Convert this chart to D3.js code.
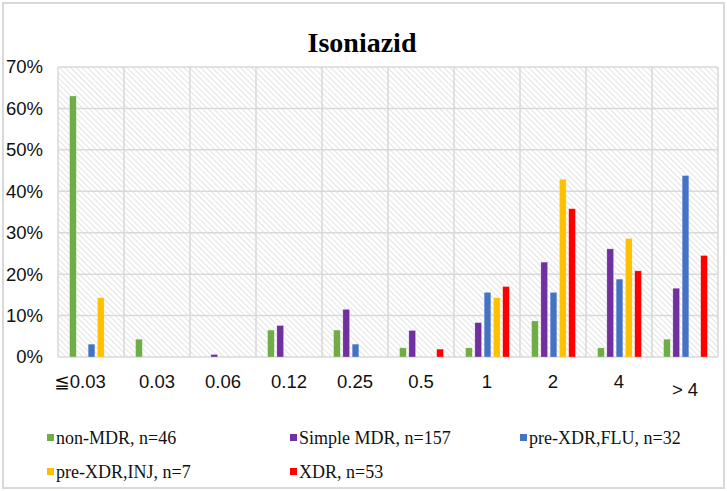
<!DOCTYPE html>
<html>
<head>
<meta charset="utf-8">
<script src="https://cdn.jsdelivr.net/npm/d3@7"></script>
<style>
  body { margin: 0; background: #fff; }
  .serif { font-family: 'Liberation Serif', 'Times New Roman', 'DejaVu Serif', 'Noto Serif', serif; }
  .sans { font-family: 'Liberation Sans', Arial, 'DejaVu Sans', sans-serif; }
</style>
</head>
<body>
<script>
var w = 727;
var h = 491;

// MIC categories (mg/L)
var categories = ['\u22660.03', '0.03', '0.06', '0.12', '0.25', '0.5', '1', '2', '4', '> 4'];
var seriesNames = ['non-MDR, n=46', 'Simple MDR, n=157', 'pre-XDR,FLU, n=32', 'pre-XDR,INJ, n=7', 'XDR, n=53'];
var colors = ['#70ad47', '#7030a0', '#4472c4', '#ffc000', '#ff0000'];
// percentages
var nonMDR    = [63.0, 4.3, 0, 6.5, 6.5, 2.2, 2.2, 8.7, 2.2, 4.3];
var simpleMDR = [0, 0, 0.6, 7.6, 11.5, 6.4, 8.3, 22.9, 26.1, 16.6];
var preXdrFlu = [3.1, 0, 0, 0, 3.1, 0, 15.6, 15.6, 18.8, 43.8];
var preXdrInj = [14.3, 0, 0, 0, 0, 0, 14.3, 42.9, 28.6, 0];
var xdr       = [0, 0, 0, 0, 0, 1.9, 17.0, 35.8, 20.8, 24.5];
var yTicks = [0, 10, 20, 30, 40, 50, 60, 70];

var allSeries = [nonMDR, simpleMDR, preXdrFlu, preXdrInj, xdr];

var margin = {left: 58, right: 9, top: 67, bottom: 134};
var pw = w - margin.left - margin.right;
var ph = h - margin.top - margin.bottom;

var svg = d3.select('body')
  .append('svg')
  .attr('width', w)
  .attr('height', h);

// hatch fill for the plot area
var defs = svg.append('defs');
defs.append('pattern')
  .attr('id', 'hatch')
  .attr('patternUnits', 'userSpaceOnUse')
  .attr('width', 4)
  .attr('height', 4)
  .attr('patternTransform', 'rotate(-45)')
  .append('line')
  .attr('x1', 0).attr('y1', 0)
  .attr('x2', 0).attr('y2', 4)
  .attr('stroke', '#d4d4d4')
  .attr('stroke-width', 1.3);

// outer frame
svg.append('rect')
  .attr('x', 3).attr('y', 3)
  .attr('width', w - 6).attr('height', h - 6)
  .attr('fill', 'none')
  .attr('stroke', '#d9d9d9')
  .attr('stroke-width', 2);

svg.append('text')
  .attr('class', 'serif')
  .attr('x', 362)
  .attr('y', 52)
  .attr('text-anchor', 'middle')
  .attr('font-weight', 'bold')
  .attr('font-size', '28px')
  .attr('fill', '#000')
  .text('Isoniazid');

var g = svg.append('g')
  .attr('transform', 'translate(' + margin.left + ',' + margin.top + ')');

var x0 = d3.scaleBand().domain(categories).range([0, pw]);
var x1 = d3.scaleBand().domain(d3.range(seriesNames.length))
  .range([9, x0.bandwidth() - 8]).padding(0.28);
var y = d3.scaleLinear().domain([0, 70]).range([ph, 0]);

g.append('rect')
  .attr('width', pw)
  .attr('height', ph)
  .attr('fill', 'url(#hatch)');

// gridlines
g.selectAll('.hgrid')
  .data(yTicks)
  .enter()
  .append('line')
  .attr('x1', 0).attr('x2', pw)
  .attr('y1', function(d) { return y(d); })
  .attr('y2', function(d) { return y(d); })
  .attr('stroke', '#d9d9d9')
  .attr('stroke-width', 1.5);

var edges = categories.map(function(c) { return x0(c); }).concat([pw]);
g.selectAll('.vgrid')
  .data(edges)
  .enter()
  .append('line')
  .attr('x1', function(d) { return d; })
  .attr('x2', function(d) { return d; })
  .attr('y1', 0).attr('y2', ph)
  .attr('stroke', '#d9d9d9')
  .attr('stroke-width', 1.5);

// bars
var groups = g.selectAll('.cat')
  .data(categories)
  .enter()
  .append('g')
  .attr('transform', function(d) { return 'translate(' + x0(d) + ',0)'; });

groups.selectAll('rect')
  .data(function(d, i) {
    return allSeries.map(function(s, j) { return {s: j, v: s[i]}; })
      .filter(function(e) { return e.v > 0; });
  })
  .enter()
  .append('rect')
  .attr('x', function(d) { return x1(d.s); })
  .attr('y', function(d) { return y(d.v); })
  .attr('width', x1.bandwidth())
  .attr('height', function(d) { return ph - y(d.v); })
  .attr('fill', function(d) { return colors[d.s]; })
  .attr('stroke', '#ffffff')
  .attr('stroke-opacity', 0.5)
  .attr('stroke-width', 0.5);

// y axis labels
var yAxis = d3.axisLeft(y)
  .tickValues(yTicks)
  .tickSize(0)
  .tickPadding(15)
  .tickFormat(function(d) { return d + '%'; });
var ya = g.append('g').call(yAxis);
ya.select('.domain').remove();
ya.selectAll('text')
  .attr('class', 'sans')
  .attr('font-size', '18.5px')
  .attr('fill', '#111');

// x axis labels
var xAxis = d3.axisBottom(x0).tickSize(0).tickPadding(18);
var xa = g.append('g')
  .attr('transform', 'translate(0,' + ph + ')')
  .call(xAxis);
xa.select('.domain').remove();
xa.selectAll('text')
  .attr('class', 'sans')
  .attr('font-size', '18.5px')
  .attr('fill', '#111')
  .attr('dx', function(d, i) { return i === 0 ? -11 : 0; })
  .attr('dy', function(d, i) { return i === categories.length - 1 ? '1.15em' : '0.71em'; });

// legend
var legendPos = [[47, 438], [290, 438], [520, 438], [47, 472], [290, 472]];
var legend = svg.selectAll('.legend')
  .data(seriesNames)
  .enter()
  .append('g')
  .attr('transform', function(d, i) {
    return 'translate(' + legendPos[i][0] + ',' + legendPos[i][1] + ')';
  });
legend.append('rect')
  .attr('x', 0).attr('y', -4)
  .attr('width', 7).attr('height', 7)
  .attr('fill', function(d, i) { return colors[i]; });
legend.append('text')
  .attr('class', 'serif')
  .attr('x', 9)
  .attr('y', 6)
  .attr('font-size', '18px')
  .attr('fill', '#111')
  .text(function(d) { return d; });
</script>
</body>
</html>
